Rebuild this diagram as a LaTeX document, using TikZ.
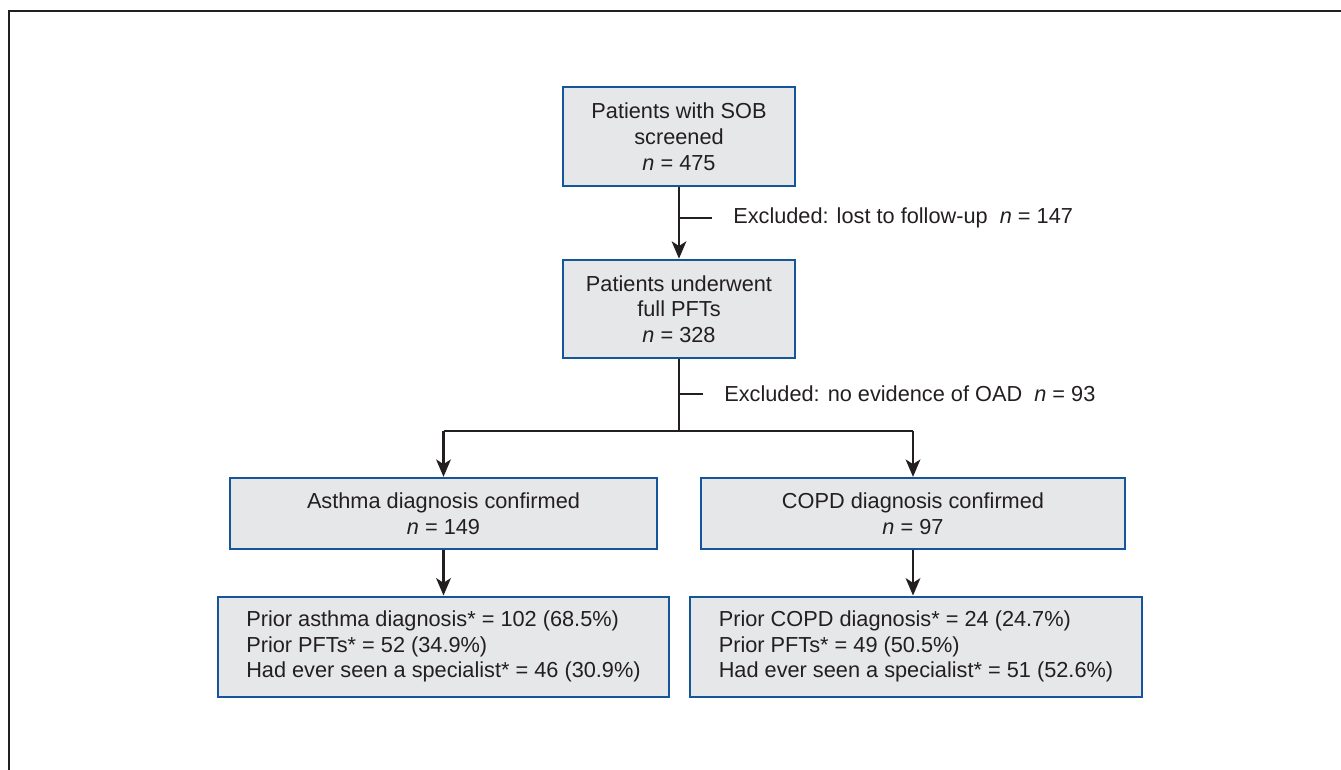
\documentclass[tikz,border=0pt]{standalone}
\usepackage{fontspec}
\setmainfont{Liberation Sans}
\usepackage{tikz}
\usetikzlibrary{arrows.meta}

\definecolor{boxfill}{HTML}{E6E7E8}
\definecolor{boxline}{HTML}{15559A}
\definecolor{ink}{HTML}{231F20}

\begin{document}
\begin{tikzpicture}
	[
	x=0.75pt, y=-0.75pt,
	font=\fontsize{16.3}{19.3}\selectfont,
	box/.style={draw=boxline, fill=boxfill, line width=1.5pt, inner sep=0pt, align=center, text=ink},
	listbox/.style={box, align=left},
	excl/.style={anchor=west, inner sep=0pt, text=ink},
	flow/.style={draw=ink, line width=1.8pt, -{Stealth[length=13pt, width=11pt, inset=3.5pt]}},
	trunk/.style={draw=ink, line width=1.6pt},
	branch/.style={draw=ink, line width=0.8pt},
	]
		\useasboundingbox (0,0) rectangle (1341,770);
		\draw[ink, line width=1.6pt] (9,770) -- (9,11) -- (1341,11);
		
		% screening
		\node[box, minimum width=174pt, minimum height=74pt] (scr) at 	( 679, 136.5 ) {Patients with SOB\\screened\\\textit{n} = 475};
		\node[box, minimum width=174pt, minimum height=74pt] (pft) at 	( 679, 309 ) {Patients underwent\\full PFTs\\\textit{n} = 328};
		
		% exclusions
		\coordinate (b1) at 		( 679, 218 );
		\coordinate (b2) at 		( 679, 394 );
		\node[excl] (ex1) at 		( 733, 218 ) {Excluded: lost to follow-up\ \ \textit{n} = 147};
		\node[excl] (ex2) at 		( 724, 394 ) {Excluded: no evidence of OAD\ \ \textit{n} = 93};
		
		% diagnosis
		\coordinate (split) at 	( 679, 431 );
		\node[box, minimum width=320pt, minimum height=53.5pt] (asth) at 	( 443.5, 513.5 ) {Asthma diagnosis confirmed\\\textit{n} = 149};
		\node[box, minimum width=318pt, minimum height=53.5pt] (copd) at 	( 913, 513.5 ) {COPD diagnosis confirmed\\\textit{n} = 97};
		
		% prior history
		\node[listbox, minimum width=338pt, minimum height=75pt] (asthp) at 	( 443.5, 646.5 ) {Prior asthma diagnosis* = 102 (68.5\%)\\Prior PFTs* = 52 (34.9\%)\\Had ever seen a specialist* = 46 (30.9\%)};
		\node[listbox, minimum width=339pt, minimum height=75pt] (copdp) at 	( 916, 646.5 ) {Prior COPD diagnosis* = 24 (24.7\%)\\Prior PFTs* = 49 (50.5\%)\\Had ever seen a specialist* = 51 (52.6\%)};
		
		\draw[flow] (scr) -- (pft);
		\draw[trunk] (pft) -- (split);
		\draw[trunk] (asth.north |- split) -- (copd.north |- split);
		\foreach \to in {asth,copd} \draw[flow] (\to.north |- split) -- (\to.north);
		\foreach \from/\to in {asth/asthp,copd/copdp} \draw[flow] (\from.south) -- (\from.south |- \to.north);
		\foreach \from/\to in {b1/ex1,b2/ex2} \draw[branch] (\from) -- ([xshift=-16pt]\to.west |- \from);
		
	\end{tikzpicture}
\end{document}
